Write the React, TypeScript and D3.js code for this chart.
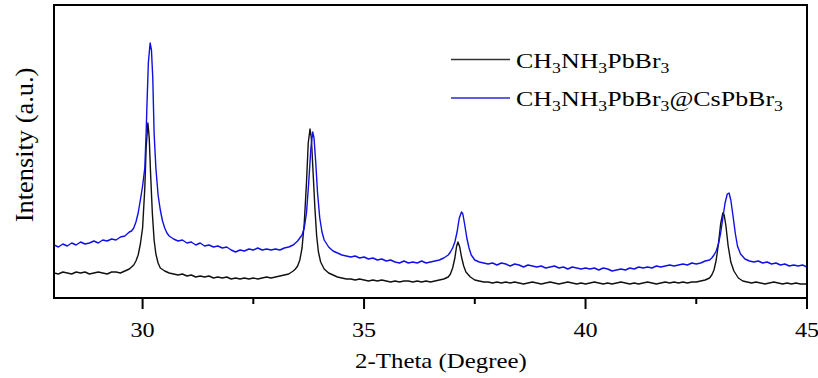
import React from "react";
import * as d3 from "d3";

const xTicksMajor = [30, 35, 40, 45];
const xTicksMinor = [32.5, 37.5, 42.5];
const seriesNames = ["CH3NH3PbBr3", "CH3NH3PbBr3@CsPbBr3"];
const seriesColors = ["#111111", "#1010e6"];

// [2-theta, intensity (a.u.)]
const pristine: [number, number][] = [
  [28.0, 25], [28.1, 24], [28.2, 26], [28.3, 25], [28.4, 24], [28.5, 26], [28.6, 25], [28.7, 26],
  [28.8, 24], [28.9, 25], [29.0, 26], [29.1, 25], [29.2, 24], [29.3, 26], [29.4, 26], [29.5, 25],
  [29.6, 27], [29.7, 29], [29.75, 31], [29.8, 33], [29.85, 37], [29.9, 43], [29.95, 54],
  [30.0, 70], [30.05, 110], [30.08, 150], [30.12, 175], [30.15, 160], [30.18, 125], [30.22, 85],
  [30.26, 58], [30.3, 44], [30.35, 35], [30.4, 30], [30.5, 27], [30.6, 25], [30.7, 24], [30.8, 23],
  [30.9, 24], [31.0, 22], [31.1, 23], [31.2, 21], [31.3, 22], [31.4, 21], [31.5, 22], [31.6, 20],
  [31.7, 21], [31.8, 20], [31.9, 21], [32.0, 19], [32.1, 20], [32.2, 19], [32.3, 20], [32.4, 19],
  [32.5, 20], [32.6, 19], [32.7, 20], [32.8, 21], [32.9, 20], [33.0, 21], [33.1, 22], [33.2, 23],
  [33.3, 24], [33.4, 27], [33.45, 29], [33.5, 32], [33.55, 38], [33.6, 50], [33.65, 75],
  [33.7, 115], [33.74, 155], [33.78, 169], [33.81, 160], [33.85, 125], [33.89, 90], [33.93, 62],
  [33.97, 46], [34.02, 36], [34.1, 29], [34.2, 25], [34.3, 23], [34.4, 21], [34.5, 20], [34.6, 19],
  [34.7, 19], [34.8, 18], [34.9, 19], [35.0, 18], [35.1, 17], [35.2, 18], [35.3, 17], [35.4, 18],
  [35.5, 17], [35.6, 16], [35.7, 17], [35.8, 16], [35.9, 17], [36.0, 17], [36.1, 16], [36.2, 17],
  [36.3, 16], [36.4, 17], [36.5, 16], [36.6, 17], [36.7, 18], [36.8, 19], [36.9, 21], [36.95, 24],
  [37.0, 30], [37.05, 40], [37.09, 52], [37.12, 56], [37.16, 51], [37.2, 41], [37.25, 32],
  [37.3, 26], [37.4, 21], [37.5, 18], [37.6, 17], [37.7, 16], [37.8, 16], [37.9, 15], [38.0, 16],
  [38.1, 15], [38.2, 16], [38.3, 15], [38.4, 16], [38.5, 15], [38.6, 14], [38.7, 15], [38.8, 16],
  [38.9, 15], [39.0, 14], [39.1, 15], [39.2, 16], [39.3, 15], [39.4, 14], [39.5, 15], [39.6, 16],
  [39.7, 15], [39.8, 14], [39.9, 15], [40.0, 14], [40.1, 15], [40.2, 16], [40.3, 15], [40.4, 14],
  [40.5, 15], [40.6, 14], [40.7, 15], [40.8, 16], [40.9, 15], [41.0, 14], [41.1, 15], [41.2, 14],
  [41.3, 15], [41.4, 16], [41.5, 15], [41.6, 14], [41.7, 15], [41.8, 16], [41.9, 15], [42.0, 16],
  [42.1, 15], [42.2, 16], [42.3, 15], [42.4, 16], [42.5, 16], [42.6, 17], [42.7, 18], [42.8, 20],
  [42.85, 23], [42.9, 28], [42.95, 38], [43.0, 54], [43.05, 74], [43.1, 85], [43.13, 83],
  [43.17, 72], [43.22, 52], [43.28, 36], [43.35, 27], [43.45, 20], [43.55, 17], [43.65, 16],
  [43.75, 15], [43.85, 16], [43.95, 15], [44.05, 14], [44.15, 15], [44.25, 16], [44.35, 15],
  [44.45, 14], [44.55, 15], [44.65, 14], [44.75, 15], [44.85, 14], [45.0, 14],
];

const composite: [number, number][] = [
  [28.0, 53], [28.1, 51], [28.2, 54], [28.3, 52], [28.4, 55], [28.5, 53], [28.6, 56], [28.7, 54],
  [28.8, 55], [28.9, 57], [29.0, 55], [29.1, 58], [29.2, 57], [29.3, 59], [29.4, 58], [29.5, 61],
  [29.6, 62], [29.65, 64], [29.7, 66], [29.75, 67], [29.8, 70], [29.85, 76], [29.9, 85],
  [29.95, 98], [30.0, 112], [30.05, 130], [30.08, 165], [30.1, 195], [30.13, 235], [30.17, 255],
  [30.2, 248], [30.23, 220], [30.26, 165], [30.3, 130], [30.35, 103], [30.4, 88], [30.45, 77],
  [30.5, 70], [30.55, 65], [30.6, 62], [30.7, 59], [30.8, 57], [30.9, 58], [31.0, 55], [31.1, 56],
  [31.2, 53], [31.3, 55], [31.4, 52], [31.5, 53], [31.6, 51], [31.7, 52], [31.8, 50], [31.9, 51],
  [32.0, 48], [32.1, 46], [32.2, 48], [32.3, 47], [32.4, 49], [32.5, 48], [32.6, 50], [32.7, 48],
  [32.8, 49], [32.9, 48], [33.0, 49], [33.1, 48], [33.2, 50], [33.3, 51], [33.4, 53], [33.5, 57],
  [33.55, 60], [33.6, 63], [33.65, 70], [33.7, 85], [33.75, 115], [33.8, 150], [33.84, 166],
  [33.87, 160], [33.91, 135], [33.95, 105], [34.0, 80], [34.05, 66], [34.1, 58], [34.2, 51],
  [34.3, 47], [34.4, 45], [34.5, 43], [34.6, 42], [34.7, 41], [34.8, 42], [34.9, 40], [35.0, 41],
  [35.1, 39], [35.2, 40], [35.3, 38], [35.4, 39], [35.5, 37], [35.6, 38], [35.7, 36], [35.8, 35],
  [35.9, 37], [36.0, 35], [36.1, 36], [36.2, 35], [36.3, 37], [36.4, 35], [36.5, 36], [36.6, 37],
  [36.7, 38], [36.8, 40], [36.9, 43], [36.95, 46], [37.0, 50], [37.05, 56], [37.1, 66],
  [37.15, 80], [37.2, 86], [37.23, 84], [37.27, 74], [37.32, 60], [37.37, 50], [37.42, 43],
  [37.5, 38], [37.6, 36], [37.7, 35], [37.8, 34], [37.9, 35], [38.0, 33], [38.1, 35], [38.2, 34],
  [38.3, 32], [38.4, 34], [38.5, 33], [38.6, 31], [38.7, 33], [38.8, 32], [38.9, 31], [39.0, 32],
  [39.1, 30], [39.2, 31], [39.3, 32], [39.4, 30], [39.5, 31], [39.6, 29], [39.7, 31], [39.8, 30],
  [39.9, 29], [40.0, 30], [40.1, 29], [40.2, 30], [40.3, 28], [40.4, 30], [40.5, 29], [40.6, 27],
  [40.7, 28], [40.8, 29], [40.9, 28], [41.0, 30], [41.1, 29], [41.2, 31], [41.3, 30], [41.4, 31],
  [41.5, 30], [41.6, 32], [41.7, 31], [41.8, 32], [41.9, 33], [42.0, 32], [42.1, 33], [42.2, 34],
  [42.3, 33], [42.4, 35], [42.5, 34], [42.6, 35], [42.7, 37], [42.8, 38], [42.85, 40], [42.9, 43],
  [42.95, 47], [43.0, 54], [43.05, 65], [43.1, 80], [43.15, 95], [43.2, 104], [43.24, 105],
  [43.28, 98], [43.33, 82], [43.38, 65], [43.43, 52], [43.5, 44], [43.6, 39], [43.7, 37],
  [43.8, 36], [43.9, 37], [44.0, 35], [44.1, 36], [44.2, 34], [44.3, 35], [44.4, 33], [44.5, 34],
  [44.6, 32], [44.7, 33], [44.8, 32], [44.9, 33], [45.0, 31],
];

const W = 818;
const H = 378;
const M = { left: 54, top: 5, right: 807, bottom: 298 };
const FONT = "'Liberation Serif', 'Times New Roman', serif";

function Sub({ children }: { children: React.ReactNode }) {
  return (
    <tspan fontSize="15" dy="5">
      {children}
    </tspan>
  );
}
function Up() {
  return <tspan dy="-5"></tspan>;
}

function Formula({ withCs }: { withCs: boolean }) {
  return (
    <>
      <tspan>CH</tspan>
      <tspan fontSize="15" dy="5">3</tspan>
      <tspan dy="-5">NH</tspan>
      <tspan fontSize="15" dy="5">3</tspan>
      <tspan dy="-5">PbBr</tspan>
      <tspan fontSize="15" dy="5">3</tspan>
      {withCs && (
        <>
          <tspan dy="-5">@CsPbBr</tspan>
          <tspan fontSize="15" dy="5">3</tspan>
        </>
      )}
    </>
  );
}

export default function App() {
  const x = d3.scaleLinear().domain([28, 45]).range([M.left, M.right]);
  const y = d3.scaleLinear().domain([0, 293]).range([M.bottom, M.top]);
  const line = d3
    .line<[number, number]>()
    .x((d) => x(d[0]))
    .y((d) => y(d[1]));
  const data = [pristine, composite];

  return (
    <div style={{ position: "fixed", left: 0, top: 0 }}>
      <svg width={W} height={H} style={{ display: "block", background: "#fff" }}>
        <defs>
          <clipPath id="plot">
            <rect x={M.left} y={M.top} width={M.right - M.left} height={M.bottom - M.top} />
          </clipPath>
        </defs>
        <g clipPath="url(#plot)">
          {data.map((d, i) => (
            <path
              key={i}
              d={line(d) || ""}
              fill="none"
              stroke={seriesColors[i]}
              strokeWidth={1.4}
              strokeLinejoin="round"
            />
          ))}
        </g>
        <rect
          x={M.left}
          y={M.top}
          width={M.right - M.left}
          height={M.bottom - M.top}
          fill="none"
          stroke="#000"
          strokeWidth={2}
        />
        {xTicksMajor.map((t) => (
          <g key={"M" + t}>
            <line x1={x(t)} x2={x(t)} y1={M.bottom} y2={M.bottom + 11} stroke="#000" strokeWidth={2} />
            <g transform={`translate(${x(t)},${337}) scale(1.1,1)`}>
              <text textAnchor="middle" fontFamily={FONT} fontSize={22} fill="#000">
                {t}
              </text>
            </g>
          </g>
        ))}
        {xTicksMinor.map((t) => (
          <line key={"m" + t} x1={x(t)} x2={x(t)} y1={M.bottom} y2={M.bottom + 6} stroke="#000" strokeWidth={2} />
        ))}
        <g transform={`translate(${441},${368}) scale(1.13,1)`}>
          <text textAnchor="middle" fontFamily={FONT} fontSize={22} fill="#000">
            2-Theta (Degree)
          </text>
        </g>
        <g transform={`translate(${33},${145}) rotate(-90) scale(1.2,1.15)`}>
          <text textAnchor="middle" fontFamily={FONT} fontSize={22} fill="#000">
            Intensity (a.u.)
          </text>
        </g>
        {seriesNames.map((name, i) => {
          const ly = 59.5 + i * 38.5;
          return (
            <g key={name}>
              <line x1={451} x2={510} y1={ly} y2={ly} stroke={i === 0 ? "#333" : "#2a2ad0"} strokeWidth={1.6} />
              <g transform={`translate(516,${ly + 8}) scale(1.18,1)`}>
                <text fontFamily={FONT} fontSize={22} fill="#000">
                  <Formula withCs={i === 1} />
                </text>
              </g>
            </g>
          );
        })}
      </svg>
    </div>
  );
}
